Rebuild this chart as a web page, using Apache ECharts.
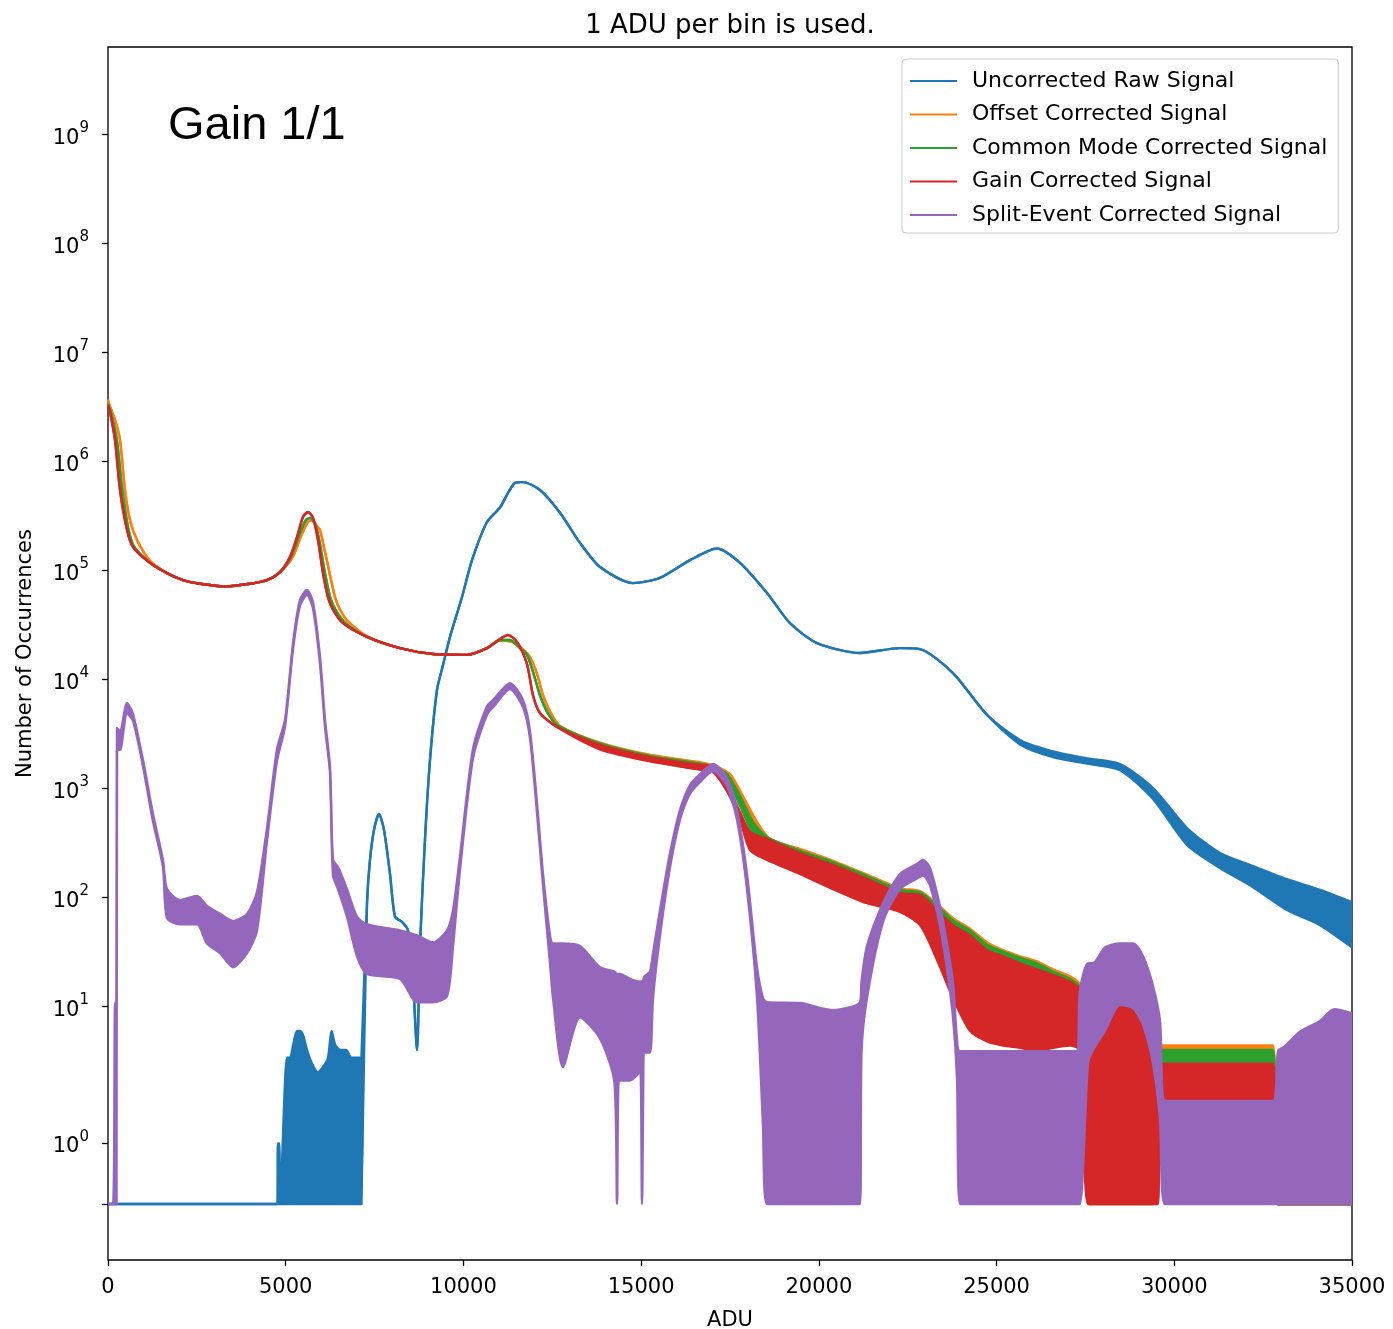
<!DOCTYPE html>
<html>
<head>
<meta charset="utf-8">
<script src="https://cdn.jsdelivr.net/npm/echarts@6/dist/echarts.min.js"></script>
<style>
  html, body { margin: 0; padding: 0; background: #ffffff; }
  #chart { width: 1393px; height: 1329px; }
</style>
</head>
<body>
<div id="chart"></div>
<script>
// ---------------------------------------------------------------------------
// Histogram of pixel values (1 ADU per bin) after each correction step.
// Each signal is given by sampled ADU positions and the upper / lower edge of
// its trace (noisy regions form a band; null = thin line, lower edge = upper).
// ---------------------------------------------------------------------------
const FONT = 'DejaVu Sans';
const seriesNames = [
  'Uncorrected Raw Signal',
  'Offset Corrected Signal',
  'Common Mode Corrected Signal',
  'Gain Corrected Signal',
  'Split-Event Corrected Signal'
];
const seriesColors = ['#1f77b4', '#ff7f0e', '#2ca02c', '#d62728', '#9467bd'];
const xTicks = [0, 5000, 10000, 15000, 20000, 25000, 30000, 35000];
const yTickCounts = [0, 1, 10, 100, 1e3, 1e4, 1e5, 1e6, 1e7, 1e8, 1e9];

// Uncorrected raw signal
const rawAdu = [0, 4760, 4780, 4820, 4840, 4980, 5036, 5121, 5205, 5318, 5402, 5486, 5600, 5740, 5900, 6050, 6190, 6290, 6400, 6550,
  6700, 6850, 7000, 7130, 7146, 7287, 7371, 7484, 7625, 7765, 7934, 8075, 8272, 8440, 8581, 8694, 8778, 8919, 9059, 9256,
  9425, 9622, 9960, 10241, 10663, 11029, 11451, 11676, 12154, 12717, 13280, 13843, 14771, 15531, 16375, 17134, 17781, 18541, 19188, 19948,
  21157, 22283, 22846, 23774, 24731, 25659, 26588, 27544, 28473, 29401, 30358, 31286, 32215, 33171, 34100, 35000];
const rawHi = [0, 0, 1, 1, 0, 2, 3.4, 3.4, 4.4, 6, 6, 5.5, 4, 3, 2.5, 2.8, 3.4, 6, 4.4, 4,
  4, 3.4, 3.4, 3.4, 3.4, 89, 222, 418, 586, 418, 165, 67, 60, 50, 17, 4, 36, 346, 1830, 8050,
  13600, 24700, 57400, 125000, 280000, 380000, 640000, 650000, 550000, 340000, 180000, 108000, 77000, 86000, 125000, 160000, 118000, 62500, 33000, 21700,
  17600, 19500, 19100, 11500, 4750, 2800, 2200, 1900, 1680, 1015, 436, 257, 195, 148, 118, 91];
const rawLo = [null, null, 0, 0, null, 0, 0, 0, 0, 0, 0, 0, 0, 0, 0, 0, 0, 0, 0, 0,
  0, 0, 0, 0, 0, null, null, null, null, null, null, null, null, null, null, null, null, null, null, null,
  null, null, null, null, null, null, null, null, null, null, null, null, null, null, null, null, null, null, null, null,
  null, null, null, null, null, 2550, 1950, 1700, 1480, 805, 305, 187, 125, 77, 56, 35];

// Offset corrected signal
const offsetAdu = [0, 56, 197, 338, 478, 619, 816, 1182, 1660, 2110, 2588, 3292, 3995, 4473, 4839, 5200, 5420, 5620, 5740, 5900,
  5965, 6105, 6246, 6387, 6527, 6724, 7287, 8215, 9144, 10100, 10663, 11029, 11367, 11676, 11873, 12070, 12239, 12436, 12717, 13843,
  15249, 16656, 17022, 17500, 17922, 18260, 18625, 19469, 20398, 21354, 22283, 22846, 23324, 23774, 24252, 24731, 25181, 25659, 26137, 26588,
  27066, 27347, 27600, 27713, 27900, 28107, 28700, 29120, 29401, 29600, 32777, 32900, 35000];
const offsetHi = [3.7e6, 3.2e6, 2.42e6, 1.58e6, 5.5e5, 2.9e5, 1.91e5, 1.23e5, 9.5e4, 8.2e4, 7.6e4, 7.2e4, 7.6e4, 8.2e4, 9.7e4, 1.34e5, 2.04e5, 2.8e5, 2.92e5, 2.5e5,
  2.36e5, 1.49e5, 9.1e4, 5.7e4, 4.4e4, 3.5e4, 2.5e4, 1.95e4, 1.72e4, 1.69e4, 1.95e4, 2.3e4, 2.22e4, 1.9e4, 1.61e4, 1.13e4, 7200, 5100, 3760, 2650,
  2050, 1750, 1650, 1360, 787, 495, 346, 280, 218, 163, 122, 115, 88, 65, 52, 39, 33, 29, 26, 22,
  19, 16, 6, 4, 4.5, 6.5, 12, 9, 5, 4.4, 4.4, 0, 0];
const offsetLo = [null, null, null, null, null, null, null, null, null, null, null, null, null, null, null, null, null, null, null, null,
  null, null, null, null, null, null, null, null, null, null, null, null, null, null, null, null, null, null, null, 2400,
  1850, 1550, 1480, 1200, 650, 390, 260, 195, 145, 105, 82, 66, 36, 21, 12, 9, 7, 6, 5, 5,
  5, 4.5, 0, 0, 0, 0, 0, 0, 0, 3, 3, null, null];

// Common mode corrected signal
const cmAdu = [0, 70, 250, 400, 580, 740, 1182, 1660, 2110, 2588, 3292, 3995, 4473, 4839, 5150, 5360, 5560, 5683, 5840, 5965,
  6105, 6250, 6400, 6680, 7287, 8215, 9144, 10100, 10663, 11029, 11310, 11620, 11789, 11957, 12154, 12351, 12633, 13843, 15249, 16656,
  17022, 17416, 17781, 18147, 18541, 19469, 20398, 21354, 22283, 22846, 23324, 23774, 24252, 24731, 25181, 25659, 26137, 26588, 27066, 27347,
  27600, 27713, 27900, 28107, 28700, 29120, 29401, 29600, 32777, 32900, 35000];
const cmHi = [3.4e6, 2.9e6, 1.58e6, 5.5e5, 2.36e5, 1.65e5, 1.18e5, 9.5e4, 8.2e4, 7.6e4, 7.2e4, 7.6e4, 8.2e4, 9.7e4, 1.34e5, 2.04e5, 2.9e5, 3.05e5, 2.6e5, 1.75e5,
  9.5e4, 5.7e4, 4.4e4, 3.3e4, 2.47e4, 1.95e4, 1.72e4, 1.69e4, 1.95e4, 2.31e4, 2.31e4, 1.9e4, 1.69e4, 1.18e4, 7200, 5100, 3840, 2600, 2000, 1700,
  1600, 1360, 857, 495, 360, 270, 212, 158, 118, 112, 85, 62, 50, 37, 32, 28, 25, 21, 18, 15,
  8, 5, 4, 6, 11, 8, 4.5, 4, 4, 0, 0];
const cmLo = [null, null, null, null, null, null, null, null, null, null, null, null, null, null, null, null, null, null, null, null,
  null, null, null, null, null, null, null, null, null, null, null, null, null, null, null, null, null, 2350, 1800, 1500,
  1450, 1200, 700, 380, 260, 190, 140, 100, 80, 65, 35, 20, 12, 9, 7, 6, 5, 5, 5, 4.5,
  0, 0, 0, 0, 0, 0, 0, 3, 3, null, null];

// Gain corrected signal
const gainAdu = [0, 56, 197, 338, 535, 703, 1182, 1660, 2110, 2588, 3292, 3995, 4473, 4839, 5121, 5318, 5486, 5627, 5768, 5908,
  6049, 6190, 6330, 6612, 7287, 8215, 9144, 10100, 10663, 11029, 11254, 11507, 11789, 11957, 12154, 12633, 13843, 15249, 16656, 17022,
  17416, 17781, 18063, 18541, 19469, 20398, 21354, 22283, 22846, 23324, 23774, 24252, 24731, 25181, 25659, 26137, 26588, 27066, 27347, 27572,
  27910, 28107, 28473, 28838, 29120, 29401, 29542, 29600, 32777, 32900, 35000];
const gainHi = [3.31e6, 2.86e6, 1.58e6, 5.5e5, 2.36e5, 1.65e5, 1.18e5, 9.5e4, 8.2e4, 7.6e4, 7.2e4, 7.6e4, 8.2e4, 9.7e4, 1.34e5, 2.04e5, 3.11e5, 3.46e5, 3.05e5, 1.91e5,
  9.5e4, 5.7e4, 4.4e4, 3.3e4, 2.47e4, 1.95e4, 1.72e4, 1.69e4, 1.95e4, 2.36e4, 2.57e4, 2.22e4, 1.39e4, 7200, 4950, 3680, 2520, 1950, 1650, 1580,
  1080, 611, 401, 346, 257, 200, 149, 110, 106, 77, 56, 45, 33, 29, 25, 22, 19.5, 17, 14.2, 3,
  5, 6.1, 10.4, 9.7, 6.8, 3, 3, 3, 3, 0, 0];
const gainLo = [null, null, null, null, null, null, null, null, null, null, null, null, null, null, null, null, null, null, null, null,
  null, null, null, null, null, null, null, null, null, null, null, null, null, null, null, null, 2300, 1780, 1500, 1420,
  950, 520, 274, 222, 165, 120, 89, 74, 56, 27, 12, 6, 4.8, 4.4, 4.2, 3.9, 4.2, 4.4, 4, 0,
  0, 0, 0, 0, 0, 0, 0, 1.7, 1.7, null, null];

// Split-event corrected signal
const splitAdu = [0, 141, 200, 240, 253, 338, 535, 703, 985, 1266, 1547, 1660, 2026, 2504, 2785, 3151, 3517, 3911, 4192, 4473,
  4755, 4980, 5205, 5402, 5599, 5768, 5965, 6105, 6246, 6330, 6471, 6724, 7006, 7287, 8215, 8694, 9144, 9538, 9707, 9904,
  10269, 10663, 10832, 11310, 11676, 11873, 12070, 12239, 12436, 12520, 12801, 13280, 13843, 14250, 14321, 14400, 14687, 14950, 15024, 15100,
  15249, 15334, 15531, 15812, 16093, 16375, 16656, 17022, 17416, 17697, 17978, 18260, 18428, 18541, 19469, 20398, 21157, 21200, 21354, 21805,
  22283, 22761, 22930, 23127, 23408, 23605, 23774, 23887, 23971, 27250, 27347, 27572, 27713, 28051, 28473, 28838, 29120, 29401, 29598, 29739,
  32777, 32918, 33100, 33537, 34100, 34500, 35000];
const splitHi = [0, 0, 10.8, 10.8, 3600, 3380, 6100, 4850, 1830, 586, 222, 120, 95, 104, 84, 71, 61, 71, 113, 437,
  2310, 4300, 21700, 54000, 66500, 51000, 16100, 4300, 1580, 222, 191, 120, 67, 57, 50, 45, 39, 50, 77, 242,
  2310, 5700, 6500, 9300, 6500, 3380, 740, 165, 45, 38, 38, 36, 23, 21, 20, 20, 18, 17, 17, 19,
  21, 31, 77, 257, 638, 1080, 1360, 1690, 1250, 638, 165, 23, 12, 11, 10.8, 9.3, 11, 17, 36, 89,
  165, 204, 222, 187, 84, 38, 16.5, 5, 3.9, 3.9, 14.2, 25, 25, 35, 38, 38, 29, 15.5, 7.4, 1.7,
  1.7, 3.9, 4.3, 5.9, 7.4, 9.5, 8.7];
const splitLo = [null, null, 0, 0, 2300, 2270, 4900, 4200, 1600, 500, 190, 65, 57, 57, 38, 31, 23, 31, 50, 330,
  1800, 3700, 19000, 48000, 60000, 45000, 14000, 3700, 1400, 160, 120, 67, 29, 20, 18, 11, 11, 12.5, 36, 180,
  1900, 4800, 5600, 8200, 5600, 2900, 600, 130, 25, 12, 2.8, 8, 5.1, 2, 0, 2.1, 2.1, 2.5, 0, 3.8,
  3.8, 12, 45, 190, 520, 900, 1150, 1450, 1050, 520, 120, 12, 1.3, 0, 0, 0, 0, 3.8, 12, 60,
  120, 150, 160, 130, 55, 22, 8, 2.2, 0, 0, 0, 3, 4, 6, 10.4, 9.7, 6.8, 3, 1.4, 0,
  0, 0, 0, 0, 0, 0, 0];

// ---------------------------------------------------------------------------
// Symmetric log scale: linear up to 2 counts, logarithmic (base 10) above.
// ---------------------------------------------------------------------------
const LIN_THRESH = 2;
const LIN_SCALE = 1 / (1 - 1 / 10);
function symlog(v) {
  return v <= LIN_THRESH ? v * LIN_SCALE : LIN_THRESH * (LIN_SCALE + Math.log10(v / LIN_THRESH));
}
const Y_MIN = -1.028;
const Y_MAX = 21.23;
const yTickPos = yTickCounts.map(symlog);
const yLabelPos = yTickCounts.filter(v => v > 0).map(symlog);

function expLabel(value) {
  for (let k = 0; k <= 9; k++) {
    if (Math.abs(symlog(Math.pow(10, k)) - value) < 1e-6) return '{b|10}{s|' + k + '}';
  }
  return '';
}

// One signal = lower edge line + stacked band up to the upper edge (filled).
// Data rows are [value, ADU] so that the value dimension is the stacked one.
const SMOOTH = 0.25;
function signalSeries(name, color, adu, hi, lo, idx) {
  const tHi = hi.map(symlog);
  const tLo = lo.map((v, i) => symlog(v == null ? hi[i] : v));
  const common = {
    name, type: 'line', silent: true, animation: false, clip: true,
    stack: 'signal' + idx, stackStrategy: 'all',
    symbol: 'none', showSymbol: false,
    smooth: SMOOTH,
    encode: { x: 1, y: 0 },
    lineStyle: { color, width: 2.4, join: 'round' },
    itemStyle: { color },
    z: 2 + idx
  };
  const lower = Object.assign({}, common, {
    data: adu.map((x, i) => [tLo[i], x])
  });
  const band = Object.assign({}, common, {
    data: adu.map((x, i) => [Math.max(0, tHi[i] - tLo[i]), x]),
    areaStyle: { color, opacity: 1 }
  });
  return [lower, band];
}

const series = [].concat(
  signalSeries(seriesNames[0], seriesColors[0], rawAdu, rawHi, rawLo, 0),
  signalSeries(seriesNames[1], seriesColors[1], offsetAdu, offsetHi, offsetLo, 1),
  signalSeries(seriesNames[2], seriesColors[2], cmAdu, cmHi, cmLo, 2),
  signalSeries(seriesNames[3], seriesColors[3], gainAdu, gainHi, gainLo, 3),
  signalSeries(seriesNames[4], seriesColors[4], splitAdu, splitHi, splitLo, 4)
);

const chart = echarts.init(document.getElementById('chart'), null, { renderer: 'canvas' });
chart.setOption({
  animation: false,
  backgroundColor: '#ffffff',
  textStyle: { fontFamily: FONT },
  grid: {
    left: 108, top: 47, width: 1244, height: 1213,
    show: true, borderColor: '#000000', borderWidth: 1.3, backgroundColor: 'transparent',
    containLabel: false, outerBoundsMode: 'none'
  },
  xAxis: {
    type: 'value', min: 0, max: 35000, interval: 5000,
    name: 'ADU', nameLocation: 'middle', nameGap: 50,
    nameTextStyle: { fontFamily: FONT, fontSize: 21, color: '#000' },
    axisLine: { show: false, onZero: false },
    axisTick: { show: true, inside: false, length: 6, lineStyle: { color: '#000', width: 1.3 } },
    axisLabel: { fontFamily: FONT, fontSize: 21, color: '#000', margin: 17,
      customValues: xTicks, formatter: v => String(v) },
    splitLine: { show: false }
  },
  yAxis: {
    type: 'value', min: Y_MIN, max: Y_MAX,
    name: 'Number of Occurrences', nameLocation: 'middle', nameGap: 72, nameRotate: 90,
    nameTextStyle: { fontFamily: FONT, fontSize: 21, color: '#000' },
    axisLine: { show: false, onZero: false },
    axisTick: { show: true, inside: false, length: 6, lineStyle: { color: '#000', width: 1.3 },
      customValues: yTickPos },
    axisLabel: {
      customValues: yLabelPos, margin: 19, color: '#000',
      formatter: expLabel,
      rich: {
        b: { fontFamily: FONT, fontSize: 21, color: '#000', verticalAlign: 'bottom', lineHeight: 28 },
        s: { fontFamily: FONT, fontSize: 15, color: '#000', verticalAlign: 'top', lineHeight: 28 }
      }
    },
    splitLine: { show: false }
  },
  legend: {
    orient: 'vertical', left: 902, top: 59,
    padding: [11, 11, 7, 8], itemGap: 11.5,
    itemWidth: 47, itemHeight: 2, icon: 'rect',
    backgroundColor: 'rgba(255,255,255,0.85)', borderColor: '#cccccc', borderWidth: 1, borderRadius: 4,
    textStyle: { fontFamily: FONT, fontSize: 22, color: '#000', lineHeight: 22, padding: [0, 0, 0, 10] },
    selectedMode: false,
    data: seriesNames.map((n, i) => ({ name: n, itemStyle: { color: seriesColors[i] } }))
  },
  graphic: [
    { type: 'text', silent: true, z: 10, x: 730, y: 26,
      style: { text: '1 ADU per bin is used.', fontFamily: FONT, fontSize: 26,
        fill: '#000', align: 'center', verticalAlign: 'middle' } },
    { type: 'text', silent: true, z: 10, x: 168, y: 126,
      style: { text: 'Gain 1/1', fontFamily: 'Liberation Sans, Arial, sans-serif', fontSize: 47,
        fill: '#000', align: 'left', verticalAlign: 'middle' } }
  ],
  series
});
</script>
</body>
</html>
